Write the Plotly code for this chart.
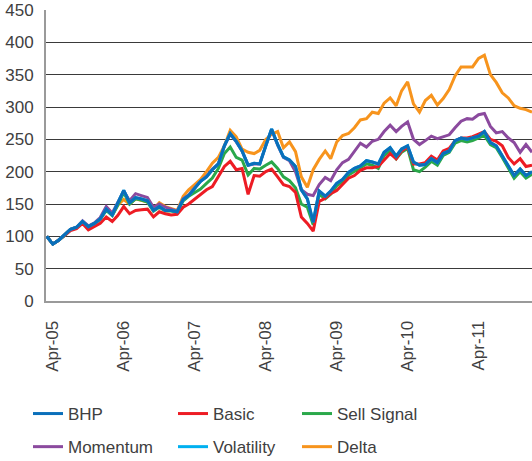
import pandas as pd
import plotly.graph_objects as go

# Monthly observation dates (Mar 2005 .. Jan 2012)
dates = [d.strftime("%Y-%m-%d") for d in pd.date_range("2005-03-01", periods=83, freq="MS")]

bhp = [100, 88, 94, 102, 111, 114, 123, 115, 120, 127,
       142, 133, 150, 171, 152, 160, 158, 155, 140, 146,
       140, 140, 138, 157, 163, 174, 185, 192, 203, 212,
       240, 259, 247, 232, 210, 213, 212, 240, 266, 242,
       223, 218, 208, 172, 158, 122, 170, 162, 170, 182,
       188, 199, 205, 209, 217, 215, 212, 230, 237, 224,
       235, 240, 215, 210, 211, 220, 214, 228, 232, 248,
       252, 250, 252, 255, 262, 245, 240, 225, 210, 194,
       204, 194, 200]

basic = [100, 88, 94, 101, 109, 112, 120, 110, 115, 120,
         130, 123, 132, 146, 135, 140, 141, 142, 130, 138,
         135, 133, 134, 145, 150, 157, 164, 172, 177, 192,
         208, 216, 203, 205, 165, 194, 193, 200, 204, 192,
         180, 177, 168, 130, 120, 108, 154, 159, 166, 171,
         180, 190, 194, 202, 206, 206, 208, 218, 228, 220,
         232, 238, 212, 212, 214, 224, 218, 232, 236, 248,
         252, 252, 254, 258, 262, 250, 247, 240, 222, 212,
         220, 208, 210]

sell_signal = [100, 88, 94, 101, 110, 113, 122, 114, 119, 126,
               140, 132, 148, 168, 150, 158, 156, 153, 139, 145,
               139, 139, 137, 155, 162, 167, 173, 182, 190, 205,
               228, 238, 222, 218, 195, 205, 204, 210, 215, 205,
               192, 186, 175, 150, 145, 118, 165, 158, 165, 178,
               185, 195, 200, 206, 212, 210, 205, 225, 233, 220,
               230, 236, 203, 200, 207, 216, 210, 225, 230, 244,
               248, 246, 248, 252, 256, 242, 237, 222, 206, 190,
               200, 190, 196]

momentum = [100, 88, 94, 102, 111, 114, 124, 116, 121, 129,
            146, 136, 152, 170, 155, 166, 163, 160, 145, 150,
            145, 142, 139, 158, 164, 175, 185, 193, 204, 212,
            240, 258, 246, 232, 210, 212, 212, 240, 265, 241,
            222, 217, 200, 172, 165, 163, 180, 191, 186, 203,
            214, 219, 231, 244, 238, 247, 250, 262, 272, 262,
            270, 277, 250, 242, 248, 255, 251, 254, 257, 268,
            278, 282, 281, 288, 290, 270, 260, 262, 252, 245,
            230, 242, 230]

volatility = [100, 88, 94, 102, 111, 114, 123, 115, 120, 127,
              142, 133, 150, 171, 152, 160, 158, 155, 140, 146,
              140, 140, 138, 157, 163, 174, 185, 192, 203, 212,
              240, 259, 247, 232, 210, 213, 212, 240, 266, 242,
              223, 218, 208, 172, 158, 122, 170, 162, 170, 182,
              188, 199, 205, 209, 217, 215, 212, 230, 237, 224,
              235, 240, 215, 210, 211, 220, 214, 228, 232, 248,
              252, 250, 252, 255, 262, 245, 240, 225, 210, 194,
              204, 194, 200]

delta = [100, 88, 94, 102, 111, 114, 123, 115, 120, 127,
         142, 133, 148, 157, 150, 158, 155, 153, 142, 152,
         146, 143, 140, 162, 172, 180, 188, 200, 213, 222,
         240, 264, 254, 235, 230, 228, 233, 250, 258, 262,
         237, 246, 231, 192, 176, 203, 219, 232, 220, 246,
         256, 259, 268, 280, 282, 292, 290, 306, 314, 302,
         325, 339, 305, 292, 310, 318, 303, 313, 327, 348,
         362, 362, 362, 375, 380, 350, 338, 322, 314, 302,
         298, 296, 292]

tick_dates = ["2005-04-01", "2006-04-01", "2007-04-01", "2008-04-01",
              "2009-04-01", "2010-04-01", "2011-04-01"]
tick_labels = ["Apr-05", "Apr-06", "Apr-07", "Apr-08", "Apr-09", "Apr-10", "Apr-11"]
y_ticks = [0, 50, 100, 150, 200, 250, 300, 350, 400, 450]

# (name, values, colour, legend, rank) in drawing order (bottom first)
series = [
    ("Delta", delta, "#f7941d", "legend3", 2),
    ("Momentum", momentum, "#8b4a9e", "legend", 2),
    ("Sell Signal", sell_signal, "#2aa84a", "legend3", 1),
    ("Basic", basic, "#ed1c24", "legend2", 1),
    ("Volatility", volatility, "#00b0f0", "legend2", 2),
    ("BHP", bhp, "#0a6fba", "legend", 1),
]

fig = go.Figure()
for name, vals, col, leg, rank in series:
    fig.add_trace(go.Scatter(
        x=dates, y=vals, name=name, mode="lines",
        line=dict(color=col, width=3),
        legend=leg, legendrank=rank, legendgroup=name,
    ))

font = dict(family="Liberation Sans, Arial, sans-serif", size=17, color="#404040")

fig.update_layout(
    width=532, height=461,
    margin=dict(l=46, r=0, t=10, b=160, autoexpand=False),
    paper_bgcolor="white", plot_bgcolor="white",
    font=font,
    xaxis=dict(
        type="date", range=["2005-02-25", "2012-01-01"],
        tickvals=tick_dates, ticktext=tick_labels, tickangle=-90,
        showgrid=False, zeroline=False, automargin=False,
        showline=True, linecolor="#9a9a9a", linewidth=2,
        ticks="", ticklabelstandoff=11, tickfont=font,
    ),
    yaxis=dict(
        range=[0, 450], tickvals=y_ticks, automargin=False,
        showgrid=True, gridcolor="#3a3a3a", gridwidth=1,
        zeroline=False,
        showline=True, linecolor="#9a9a9a", linewidth=2,
        ticks="", ticklabelstandoff=7, tickfont=font,
    ),
    showlegend=True,
)

legend_common = dict(
    orientation="v", xref="container", yref="container",
    yanchor="top", xanchor="left", font=font,
    bgcolor="rgba(0,0,0,0)", tracegroupgap=8, traceorder="grouped",
)
fig.update_layout(
    legend=dict(x=28 / 532, y=1 - 396 / 461, **legend_common),
    legend2=dict(x=173 / 532, y=1 - 396 / 461, **legend_common),
    legend3=dict(x=297 / 532, y=1 - 396 / 461, **legend_common),
)

fig.write_html("out.html", config={"displayModeBar": False},
               post_script="document.body.style.margin='0';")
